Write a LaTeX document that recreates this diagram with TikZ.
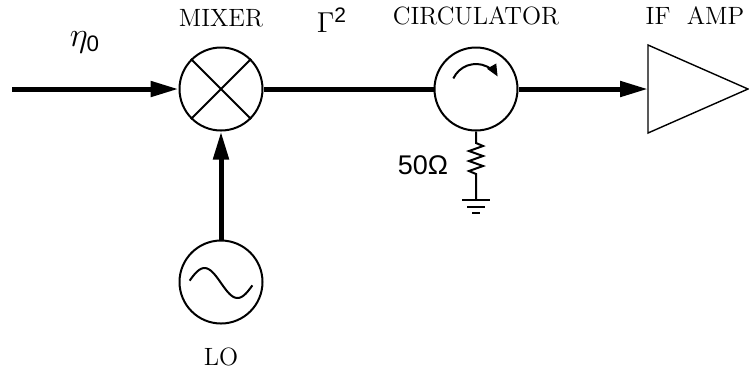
\documentclass[tikz,border=0pt]{standalone}
\usepackage{fontspec}
\setsansfont{Liberation Sans}
\usetikzlibrary{arrows.meta}
\tikzset{
  sig/.style={line width=2.5pt},
  sigarr/.style={sig,-{Triangle[length=14pt,width=7.5pt]}},
  blk/.style={draw,circle,line width=1pt,minimum size=41.5pt,inner sep=0pt},
  thin/.style={line width=1pt},
  lbl/.style={font=\fontsize{12.5}{14}\selectfont},
}
\begin{document}
\begin{tikzpicture}[x=0.5pt,y=-0.5pt]
\useasboundingbox (0,0) rectangle (749,372);
% blocks
\node[blk] (mixer) at (221,89) {};
\node[blk] (circ) at (476,89) {};
\node[blk] (lo) at (221,282) {};
\coordinate (in) at (12,89);
\coordinate (amp) at (648,89);
\draw[line width=0.7pt] (648,45) -- (748,89) -- (648,133) -- cycle;
% symbols inside
\draw[thin] (mixer.45) -- (mixer.225) (mixer.135) -- (mixer.315);
\draw[thin] plot[domain=-0.95:0.95,samples=40] ({221+33*\x},{283+15*sin(180*\x)});
\draw[thin,-{Triangle[length=6pt,width=5pt]}] ([shift={(-155:25)}]circ.center)
  arc[start angle=-155,end angle=-30,radius=25];
% load and ground
\draw[thin] (circ.south) -- (476,143) -- ++(7,3) -- ++(-14,5) -- ++(14,5) -- ++(-14,5)
  -- ++(14,5) -- ++(-14,5) -- ++(7,3) -- (476,200) coordinate (gnd);
\draw[thin] (gnd) ++(-14,0) -- ++(28,0) (gnd) ++(-9,7) -- ++(18,0) (gnd) ++(-4,13) -- ++(8,0);
% labels
\node[lbl] (mixlbl) at (221,18) {MIXER};
\node[lbl] (circlbl) at (476,16) {CIRCULATOR};
\node[lbl] (amplbl) at (695,16) {IF\ \ AMP};
\node[lbl] (lolbl) at (221,357) {LO};
\node[font=\sffamily\fontsize{13.5}{15}\selectfont] (ohm) at (423,165) {50Ω};
\node[font=\fontsize{16}{18}\selectfont] (eta) at (85,42) {$\eta_{\mathsf{0}}$};
\node[font=\fontsize{15}{17}\selectfont] (gam) at (332,20) {$\Gamma^{\mathsf{2}}$};
% signal path
\draw[sigarr] (in) -- (mixer);
\draw[sig] (mixer) -- (circ);
\draw[sigarr] (circ) -- (amp);
\draw[sigarr] (lo) -- (mixer);
\end{tikzpicture}
\end{document}
